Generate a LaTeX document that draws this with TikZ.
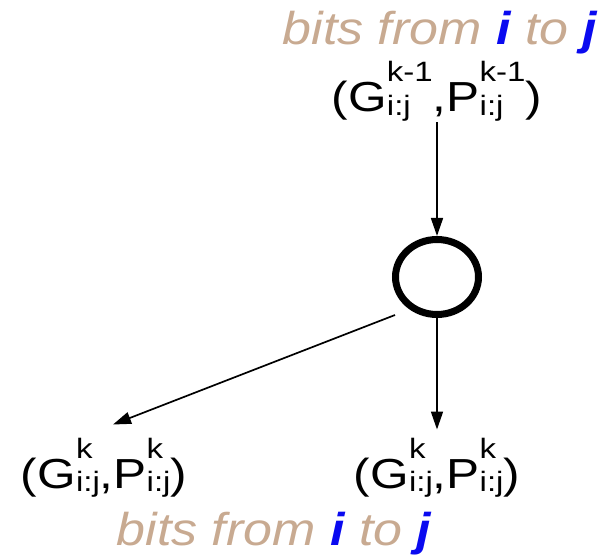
\documentclass[tikz,border=0pt]{standalone}
\usepackage{fontspec}
\setmainfont{Liberation Sans}
\newfontfamily\pairfont[FakeStretch=1.18]{Liberation Sans}
\newfontfamily\rangefont[FakeStretch=1.13]{Liberation Sans}
\usetikzlibrary{shapes.geometric, arrows.meta}
\definecolor{bitstan}{RGB}{200,170,145}
\definecolor{bitsblue}{RGB}{10,10,240}
\newcommand{\bitsij}{\textit{bits from \textcolor{bitsblue}{\textbf{i}} to \textcolor{bitsblue}{\textbf{j}}}}
\newcommand{\idx}[2]{{\pairfont\fontsize{28}{28}\selectfont\ooalign{\raisebox{30pt}{#1}\cr\raisebox{-4pt}{#2}\cr}}}
\newcommand{\gpij}[1]{(G\idx{#1}{i:j},P\idx{#1}{i:j})}

\begin{document}
\begin{tikzpicture}[
    x=1pt, y=1pt,
    pair/.style={
      anchor=base,
      inner sep=0pt,
      font=\pairfont\fontsize{42}{48}\selectfont
    },
    bitrange/.style={
      anchor=base,
      inner sep=0pt,
      text=bitstan,
      font=\rangefont\fontsize{46}{52}\selectfont
    },
    opnode/.style={
      draw,
      ellipse,
      line width=7pt,
      minimum width=83pt,
      minimum height=75pt,
      inner sep=0pt
    },
    flow/.style={
      line width=1.7pt,
      -{Triangle[length=18pt,width=12pt]}
    }
  ]
    \useasboundingbox (0,0) rectangle (611,555);
    \node[bitrange] (toprange) at (440,510) {\bitsij};
    \node[pair] (top) at (437,443) {\gpij{k-1}};
    \node[opnode] (op) at (437,278) {};
    \coordinate (fork) at (395,240);
    \node[pair] (left) at (104,67) {\gpij{k}};
    \node[pair] (right) at (437,67) {\gpij{k}};
    \node[bitrange] (botrange) at (274,10) {\bitsij};
    % arrows
    \draw[flow] (top.south) -- (op.north);
    \draw[flow] (op.south) -- ([yshift=8pt]right.north);
    \draw[flow] (fork) -- ([xshift=9pt,yshift=13pt]left.north);
  \end{tikzpicture}
\end{document}
